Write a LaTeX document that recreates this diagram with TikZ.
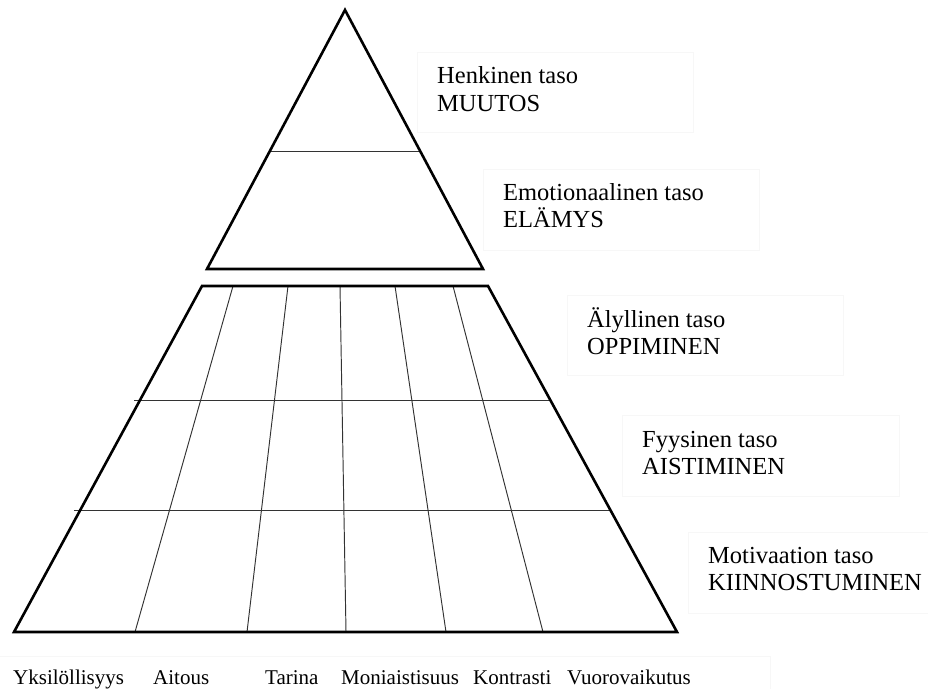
\documentclass[tikz,border=0pt]{standalone}
\usepackage{fontspec}
\setmainfont{Liberation Serif}
\usetikzlibrary{calc}
\begin{document}
\begin{tikzpicture}[x=1pt,y=-1pt,
  outline/.style={line width=2.6pt, line join=miter},
  gridline/.style={line width=0.95pt, black!80},
  lvlbox/.style={draw=black!3, line width=0.6pt},
  lvltext/.style={anchor=base west, inner sep=0pt, font=\fontsize{24.5}{27.5}\selectfont},
  itemtext/.style={anchor=base west, inner sep=0pt, font=\fontsize{21}{24}\selectfont}]
\useasboundingbox (0,0) rectangle (928,688);

% ---- upper triangle: personal and emotional levels ----
\coordinate (apex) at (345,10);
\coordinate (tl) at (207,269);
\coordinate (tr) at (483,269);
\draw[gridline] ($(apex)!0.548!(tl)$) -- ($(apex)!0.548!(tr)$);
\draw[outline] (apex) -- (tr) -- (tl) -- cycle;

% ---- lower trapezoid: intellectual, physical and motivation levels ----
\coordinate (ql) at (202,286);
\coordinate (qr) at (488,286);
\coordinate (bl) at (14,632);
\coordinate (br) at (677,632);

% horizontal level dividers
\foreach \f in {0.3295,0.650}{
  \draw[gridline] ($(ql)!\f!(bl)+(-6,0)$) -- ($(qr)!\f!(br)$);
}
% column dividers (top x / bottom x)
\foreach \a/\b in {233/135, 288/247, 340/346, 395/446, 453/543}{
  \draw[gridline] (\a,286) -- (\b,632);
}
\draw[outline] (ql) -- (qr) -- (br) -- (bl) -- cycle;

% ---- level labels with faint frames ----
\draw[lvlbox] (417,52) rectangle (693,132);
\node[lvltext] (henkA) at (437,83) {Henkinen taso};
\node[lvltext] (henkB) at (437,111) {MUUTOS};

\draw[lvlbox] (483,169) rectangle (759,250);
\node[lvltext] (emoA) at (503,200) {Emotionaalinen taso};
\node[lvltext] (emoB) at (503,227) {ELÄMYS};

\draw[lvlbox] (567,295) rectangle (843,375);
\node[lvltext] (alyA) at (587,327) {Älyllinen taso};
\node[lvltext] (alyB) at (587,354) {OPPIMINEN};

\draw[lvlbox] (622,415) rectangle (899,496);
\node[lvltext] (fyyA) at (642,447) {Fyysinen taso};
\node[lvltext] (fyyB) at (642,474) {AISTIMINEN};

\draw[lvlbox] (688,532) rectangle (964,613);
\node[lvltext] (motA) at (708,563) {Motivaation taso};
\node[lvltext] (motB) at (708,590) {KIINNOSTUMINEN};

% ---- column labels ----
\draw[lvlbox] (-5,656) rectangle (770,700);
\node[itemtext] (c1) at (13,684) {Yksilöllisyys};
\node[itemtext] (c2) at (153,684) {Aitous};
\node[itemtext] (c3) at (265,684) {Tarina};
\node[itemtext] (c4) at (341,684) {Moniaistisuus};
\node[itemtext] (c5) at (473,684) {Kontrasti};
\node[itemtext] (c6) at (567,684) {Vuorovaikutus};
\end{tikzpicture}
\end{document}
